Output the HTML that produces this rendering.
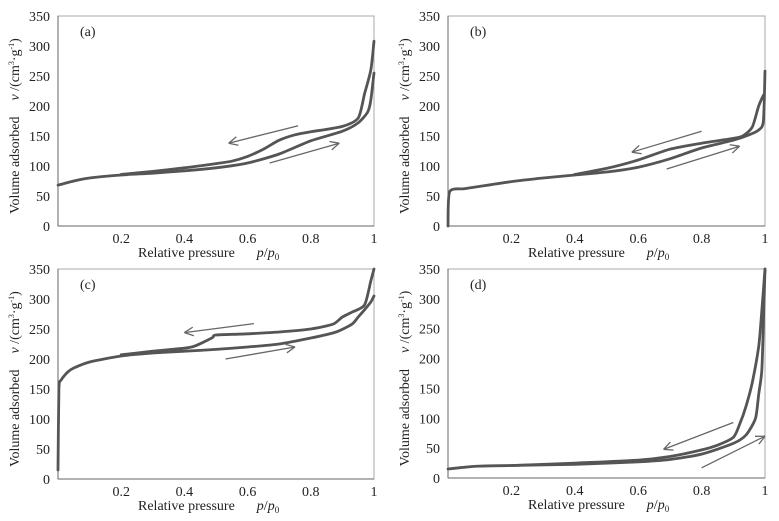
<!DOCTYPE html>
<html><head><meta charset="utf-8"><style>
html,body{margin:0;padding:0;background:#fff}
svg{display:block;font-family:"Liberation Serif",serif}
</style></head><body>
<svg id="fig" width="779" height="521" viewBox="0 0 779 521"></svg>
<script>
// Panel (a)
const aAdsX=[0,0.05,0.1,0.2,0.3,0.4,0.5,0.6,0.7,0.8,0.9,0.95,0.98,0.99,1.0];
const aAdsY=[68,75,80,85,88,92,97,105,120,142,158,172,190,210,255];
const aDesX=[1.0,0.99,0.97,0.95,0.9,0.8,0.75,0.7,0.65,0.6,0.55,0.5,0.4,0.3,0.2];
const aDesY=[308,260,220,180,166,157,152,143,128,116,108,104,97,91,86];
// Panel (b)
const bAdsX=[0,0.005,0.05,0.1,0.2,0.3,0.4,0.5,0.6,0.7,0.8,0.9,0.95,0.98,0.995,1.0];
const bAdsY=[0,57,62,66,74,80,85,90,98,112,130,143,152,160,175,258];
const bDesX=[0.995,0.98,0.96,0.93,0.9,0.8,0.7,0.6,0.5,0.4];
const bDesY=[218,200,165,150,146,138,128,110,96,86];
// Panel (c)
const cAdsX=[0,0.003,0.01,0.03,0.05,0.1,0.2,0.3,0.4,0.5,0.6,0.7,0.8,0.88,0.93,0.95,0.97,0.99,1.0];
const cAdsY=[15,150,165,178,185,195,205,210,213,216,220,225,235,245,258,270,282,295,305];
const cDesX=[1.0,0.99,0.97,0.93,0.9,0.87,0.8,0.7,0.6,0.5,0.49,0.46,0.43,0.4,0.3,0.2];
const cDesY=[350,330,290,278,270,258,250,245,242,240,236,228,221,218,213,207];
// Panel (d)
const dAdsX=[0,0.05,0.1,0.2,0.4,0.6,0.7,0.8,0.9,0.94,0.97,0.98,0.99,0.995,1.0];
const dAdsY=[15,18,20,21,23,27,31,40,58,72,100,140,180,260,350];
const dDesX=[1.0,0.99,0.98,0.96,0.94,0.92,0.9,0.85,0.8,0.7,0.6,0.4,0.2];
const dDesY=[350,280,220,160,120,90,68,55,47,36,30,25,21];
// arrows: [x1,y1,x2,y2] tail -> head in data units
const aArrows=[[0.76,167,0.54,138],[0.67,105,0.89,138]];
const bArrows=[[0.80,158,0.58,123],[0.69,95,0.92,133]];
const cArrows=[[0.62,259,0.40,244],[0.53,200,0.75,220]];
const dArrows=[[0.90,93,0.68,48],[0.80,17,1.0,70]];
const xTicks=[0.2,0.4,0.6,0.8,1];
const xTickLabels=["0.2","0.4","0.6","0.8","1"];
const yTicks=[0,50,100,150,200,250,300,350];

const NS="http://www.w3.org/2000/svg";
const svg=document.getElementById('fig');
function mk(tag,attrs,parent,text){const e=document.createElementNS(NS,tag);for(const k in attrs)e.setAttribute(k,attrs[k]);if(text!==undefined)e.textContent=text;parent.appendChild(e);return e;}
function smooth(pts){
 let d='M'+pts[0][0].toFixed(1)+','+pts[0][1].toFixed(1);
 for(let i=0;i<pts.length-1;i++){
  const p0=pts[Math.max(0,i-1)],p1=pts[i],p2=pts[i+1],p3=pts[Math.min(pts.length-1,i+2)];
  const t=0.12;
  const c1=[p1[0]+(p2[0]-p0[0])*t,p1[1]+(p2[1]-p0[1])*t];
  const c2=[p2[0]-(p3[0]-p1[0])*t,p2[1]-(p3[1]-p1[1])*t];
  d+=' C'+c1[0].toFixed(1)+','+c1[1].toFixed(1)+' '+c2[0].toFixed(1)+','+c2[1].toFixed(1)+' '+p2[0].toFixed(1)+','+p2[1].toFixed(1);
 }
 return d;
}

const panels=[
 {id:'a',x0:58,x1:374,yTop:16,yBot:226,ads:[aAdsX,aAdsY],des:[aDesX,aDesY],arr:aArrows},
 {id:'b',x0:448,x1:765,yTop:16,yBot:226,ads:[bAdsX,bAdsY],des:[bDesX,bDesY],arr:bArrows},
 {id:'c',x0:58,x1:374,yTop:269,yBot:479,ads:[cAdsX,cAdsY],des:[cDesX,cDesY],arr:cArrows},
 {id:'d',x0:448,x1:765,yTop:269,yBot:478,ads:[dAdsX,dAdsY],des:[dDesX,dDesY],arr:dArrows}
];

panels.forEach(p=>{
 const g=mk('g',{},svg);
 
 
 const sx=v=>p.x0+v*(p.x1-p.x0);
 const sy=v=>p.yBot-v/350*(p.yBot-p.yTop);
 const frame=mk('rect',{x:p.x0,y:p.yTop,width:p.x1-p.x0,height:p.yBot-p.yTop,fill:'none',stroke:'#aaa','stroke-width':1},g);
 
 
 mk('line',{x1:p.x0,y1:p.yTop,x2:p.x0,y2:p.yBot,stroke:'#666','stroke-width':1},g);
 mk('line',{x1:p.x0,y1:p.yBot,x2:p.x1,y2:p.yBot,stroke:'#666','stroke-width':1},g);
 yTicks.forEach(t=>{
  const tx=mk('text',{x:p.x0-8,y:sy(t)+5,'text-anchor':'end','font-size':14,fill:'#222'},g,String(t));
  
  
 });
 xTicks.forEach((t,i)=>{
  const tx=mk('text',{x:sx(t),y:p.yBot+17,'text-anchor':'middle','font-size':14,fill:'#222'},g,xTickLabels[i]);
  
  
 });
 const xl=mk('text',{x:p.x0+80,y:p.yBot+31,'font-size':14,fill:'#222'},g);
 
 
 xl.innerHTML='Relative pressure<tspan dx="22" font-style="italic">p</tspan>/<tspan font-style="italic">p</tspan><tspan font-size="9" dy="3">0</tspan>';
 const cy=(p.yTop+p.yBot)/2+5;
 const yl=mk('text',{x:0,y:0,'font-size':14,fill:'#222','text-anchor':'middle',transform:`translate(${p.x0-39},${cy}) rotate(-90)`},g);
 
 
 yl.innerHTML='Volume adsorbed<tspan dx="16" font-style="italic">v</tspan> /(cm<tspan font-size="8" dy="-5">3</tspan><tspan dy="5">·g</tspan><tspan font-size="8" dy="-5">-1</tspan><tspan dy="5">)</tspan>';
 const lab=mk('text',{x:p.x0+22,y:p.yTop+20,'font-size':14,fill:'#222'},g,'('+p.id+')');
 
 
 [['adsorption-curve',p.ads],['desorption-curve',p.des]].forEach(([nm,d])=>{
  const pts=d[0].map((x,i)=>[sx(x),sy(d[1][i])]);
  const pl=mk('path',{d:smooth(pts),fill:'none',stroke:'#555','stroke-width':2.8,'stroke-linejoin':'round','stroke-linecap':'round'},g);
  
  
 });
 p.arr.forEach(a=>{
  const x1=sx(a[0]),y1=sy(a[1]),x2=sx(a[2]),y2=sy(a[3]);
  const ang=Math.atan2(y2-y1,x2-x1);
  const ag=mk('g',{},g);
  
  
  mk('line',{x1:x1,y1:y1,x2:x2,y2:y2,stroke:'#666','stroke-width':1.3},ag);
  [0.45,-0.45].forEach(da=>{
   mk('line',{x1:x2,y1:y2,x2:x2-10*Math.cos(ang+da),y2:y2-10*Math.sin(ang+da),stroke:'#666','stroke-width':1.3},ag);
  });
 });
});
</script>
</body></html>
